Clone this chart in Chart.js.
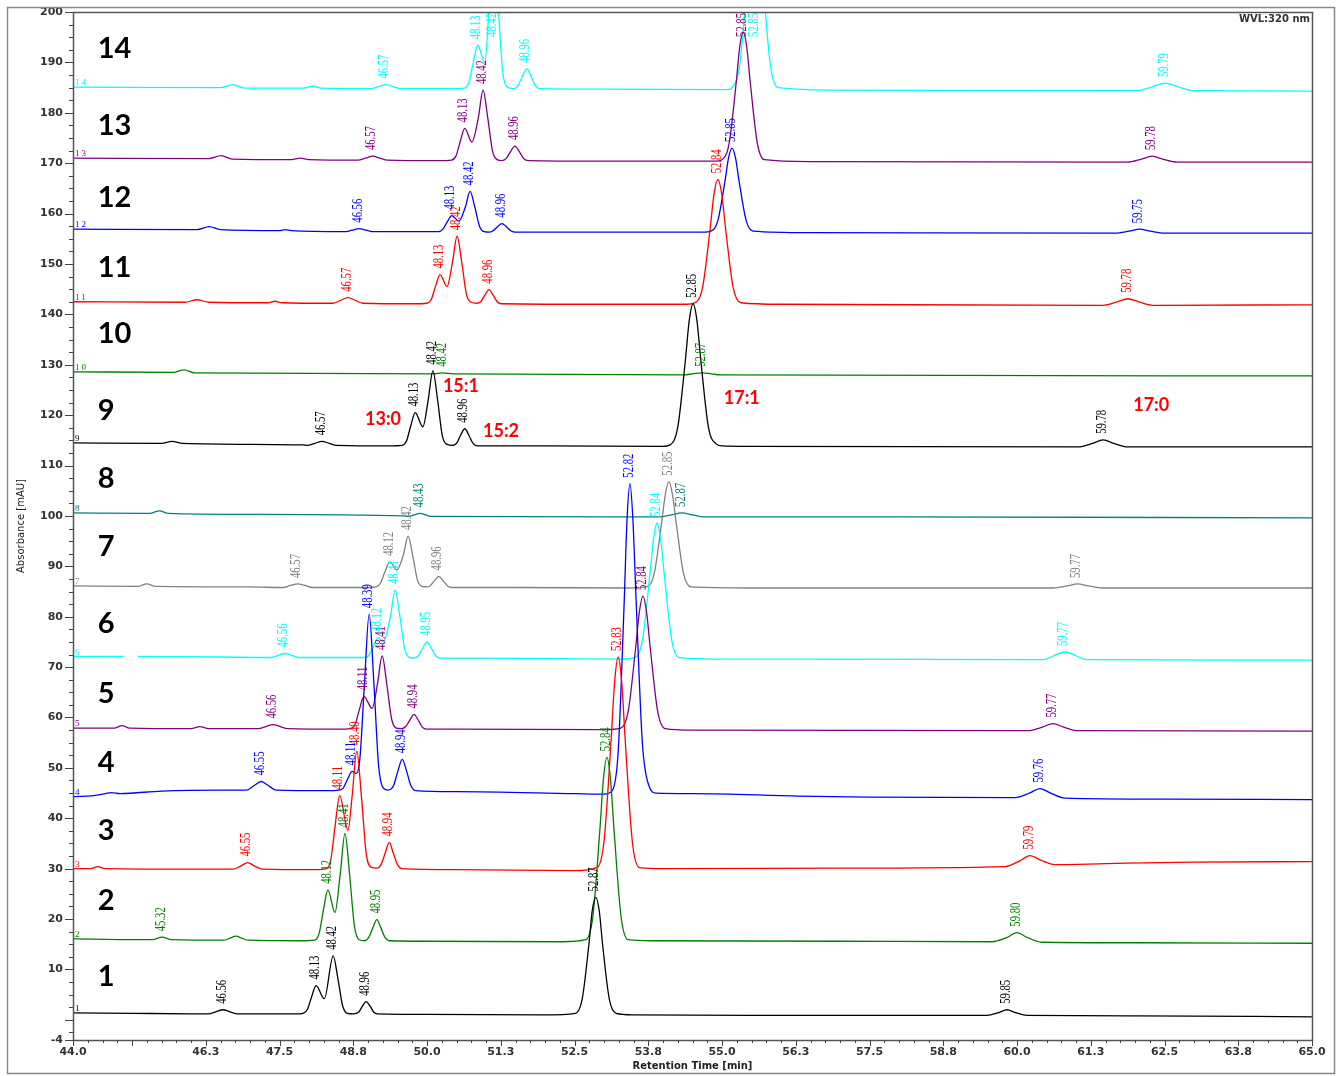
<!DOCTYPE html>
<html>
<head>
<meta charset="utf-8">
<script src="https://cdn.jsdelivr.net/npm/chart.js@4.4.1/dist/chart.umd.min.js"></script>
<style>
  html, body { margin: 0; padding: 0; background: #fff; }
  canvas { display: block; }
</style>
</head>
<body>
<canvas id="chromatogram" width="1338" height="1076"></canvas>
<script>
const trace1 = [[44.0,1.4],[45.0,1.3],[46.0,1.2],[46.29,1.2],[46.42,1.6],[46.54,2.0],[46.66,1.6],[46.79,1.2],[47.5,1.2],[47.85,1.2],[47.9,1.3],[47.97,2.0],[48.045,4.6],[48.12,6.8],[48.26,4.2],[48.41,12.7],[48.49,8.2],[48.57,2.8],[48.65,1.3],[48.75,1.2],[48.84,1.5],[48.905,2.7],[48.97,3.6],[49.035,2.7],[49.1,1.5],[49.16,1.2],[50.0,1.1],[52.0,1.0],[52.515,1.3],[52.63,4.1],[52.745,15.1],[52.8,21.6],[52.86,24.3],[52.92,21.6],[52.975,15.1],[53.09,4.1],[53.205,1.3],[53.5,1.0],[56.0,0.9],[59.49,0.9],[59.69,1.45],[59.83,2.0],[59.97,1.45],[60.17,0.9],[62.0,0.8],[65.0,0.6]]
const trace2 = [[44.0,16.1],[44.3,16.0],[45.35,15.9],[45.51,16.4],[45.67,15.9],[46.55,15.8],[46.66,16.2],[46.76,16.6],[46.86,16.2],[46.97,15.8],[47.9,15.7],[48.095,15.8],[48.17,17.1],[48.245,21.8],[48.32,25.8],[48.44,21.3],[48.53,29.0],[48.61,37.0],[48.69,28.6],[48.77,18.6],[48.85,15.9],[48.95,15.7],[49.01,16.3],[49.08,18.2],[49.15,19.9],[49.22,18.2],[49.29,16.3],[49.36,15.7],[50.0,15.6],[52.3,15.5],[52.69,15.9],[52.81,20.4],[52.93,37.7],[52.99,47.8],[53.05,52.1],[53.11,47.8],[53.17,37.7],[53.29,20.4],[53.41,15.9],[53.8,15.7],[57.0,15.6],[59.58,15.5],[59.82,16.3],[60.0,17.3],[60.18,16.3],[60.42,15.4],[62.0,15.3],[65.0,15.2]]
const trace3 = [[44.0,30.0],[44.3,30.0],[44.42,30.4],[44.54,30.0],[46.0,29.9],[46.71,29.9],[46.84,30.5],[46.96,31.2],[47.08,30.5],[47.21,29.9],[48.1,29.8],[48.295,30.0],[48.37,31.8],[48.445,38.7],[48.52,44.5],[48.66,37.6],[48.73,44.3],[48.81,53.3],[48.89,44.1],[48.97,33.0],[49.05,30.3],[49.15,30.1],[49.22,30.8],[49.29,33.0],[49.36,35.2],[49.43,33.0],[49.5,30.8],[49.57,30.0],[50.5,29.8],[52.5,29.6],[52.88,30.2],[53.0,35.4],[53.12,55.4],[53.18,67.0],[53.24,72.0],[53.3,67.0],[53.36,55.4],[53.48,35.4],[53.6,30.2],[54.0,30.0],[57.0,30.1],[59.8,30.4],[60.04,31.5],[60.22,32.6],[60.4,31.7],[60.64,30.8],[61.5,31.0],[63.0,31.3],[65.0,31.4]]
const trace4 = [[44.0,44.3],[44.35,44.5],[44.55,44.9],[44.65,45.1],[44.8,44.9],[45.5,45.4],[46.5,45.6],[46.94,45.6],[47.07,46.5],[47.19,47.3],[47.31,46.5],[47.44,45.6],[48.3,45.5],[48.505,45.6],[48.58,46.0],[48.655,47.8],[48.73,49.3],[48.8,48.9],[48.86,51.5],[48.94,66.7],[49.02,80.5],[49.1,66.7],[49.18,50.4],[49.26,46.0],[49.34,45.6],[49.43,46.4],[49.505,49.3],[49.58,51.7],[49.655,49.3],[49.73,46.4],[49.805,45.5],[50.5,45.3],[52.5,44.9],[53.0,44.8],[53.14,45.5],[53.24,53.1],[53.34,82.2],[53.39,99.2],[53.44,106.4],[53.49,99.2],[53.545,83.0],[53.65,55.0],[53.76,46.5],[53.88,45.0],[54.5,44.9],[56.3,44.4],[57.5,44.2],[59.97,44.1],[60.21,45.0],[60.39,45.9],[60.57,45.0],[60.81,44.0],[62.5,43.8],[65.0,43.7]]
const trace5 = [[44.0,57.9],[44.7,57.9],[44.83,58.4],[44.96,57.9],[46.0,57.8],[46.15,58.2],[46.3,57.8],[47.14,57.8],[47.27,58.2],[47.39,58.6],[47.51,58.2],[47.64,57.8],[48.5,57.7],[48.705,57.8],[48.78,58.6],[48.855,61.6],[48.93,64.2],[49.07,61.8],[49.16,66.6],[49.24,72.2],[49.32,66.5],[49.4,59.7],[49.48,57.9],[49.57,57.8],[49.64,58.2],[49.71,59.5],[49.78,60.6],[49.85,59.5],[49.92,58.1],[49.99,57.7],[50.5,57.7],[53.0,57.6],[53.285,57.9],[53.41,61.2],[53.535,73.7],[53.6,81.0],[53.66,84.1],[53.72,81.0],[53.785,73.7],[53.91,61.2],[54.035,57.8],[54.5,57.5],[60.19,57.4],[60.43,58.1],[60.61,58.8],[60.79,58.1],[61.03,57.4],[65.0,57.3]]
const trace6 = [[44.0,72.1],[44.85,72.1],[44.95,null],[45.1,72.1],[46.5,72.0],[47.34,71.9],[47.47,72.3],[47.59,72.7],[47.71,72.3],[47.84,71.9],[48.7,71.9],[48.95,71.9],[49.02,72.4],[49.095,74.2],[49.17,75.8],[49.26,75.0],[49.38,80.0],[49.46,85.3],[49.54,80.1],[49.62,73.7],[49.7,71.9],[49.775,71.8],[49.85,72.2],[49.925,73.7],[50.0,75.0],[50.075,73.7],[50.15,72.2],[50.225,71.8],[51.0,71.8],[53.2,71.6],[53.525,71.9],[53.65,75.2],[53.775,88.0],[53.84,95.4],[53.9,98.6],[53.96,95.4],[54.025,88.0],[54.15,75.2],[54.275,71.9],[55.0,71.6],[60.45,71.5],[60.63,72.3],[60.81,73.0],[60.99,72.3],[61.17,71.5],[65.0,71.4]]
const trace7 = [[44.0,86.1],[45.1,86.0],[45.25,86.5],[45.4,86.0],[47.0,85.9],[47.56,85.8],[47.69,86.2],[47.81,86.5],[47.93,86.2],[48.06,85.8],[49.0,85.8],[49.135,85.9],[49.21,86.6],[49.29,89.0],[49.37,90.9],[49.49,89.3],[49.6,92.3],[49.68,96.0],[49.76,92.0],[49.84,87.2],[49.92,86.0],[50.0,85.9],[50.05,86.1],[50.125,87.1],[50.2,88.0],[50.275,87.1],[50.35,86.1],[50.425,85.8],[51.5,85.8],[53.4,85.7],[53.725,85.9],[53.85,88.5],[53.975,98.5],[54.04,104.3],[54.1,106.8],[54.16,104.3],[54.225,98.5],[54.35,88.5],[54.475,85.9],[55.5,85.7],[60.61,85.7],[60.85,86.1],[61.03,86.5],[61.21,86.1],[61.45,85.7],[65.0,85.7]]
const trace8 = [[44.0,100.6],[45.3,100.5],[45.46,101.0],[45.62,100.5],[47.0,100.3],[49.6,100.0],[49.68,99.9],[49.78,100.2],[49.88,100.5],[49.98,100.2],[50.08,99.9],[53.8,99.8],[53.95,99.8],[54.14,100.2],[54.32,100.6],[54.5,100.2],[54.69,99.8],[58.0,99.8],[65.0,99.6]]
const trace9 = [[44.0,114.5],[45.5,114.4],[45.68,114.8],[45.86,114.4],[47.9,114.1],[47.97,114.0],[48.1,114.4],[48.22,114.8],[48.34,114.4],[48.47,114.0],[49.4,113.9],[49.575,114.0],[49.65,114.8],[49.725,117.9],[49.8,120.5],[49.93,117.7],[50.02,123.0],[50.1,128.8],[50.18,123.0],[50.26,115.9],[50.34,114.2],[50.43,114.0],[50.5,114.4],[50.57,116.0],[50.64,117.3],[50.71,116.0],[50.78,114.4],[50.85,113.9],[52.0,113.9],[54.0,113.8],[54.12,114.1],[54.25,117.6],[54.38,131.0],[54.445,138.8],[54.51,142.1],[54.575,138.8],[54.64,131.0],[54.77,117.6],[54.9,114.3],[55.0,113.9],[55.5,113.8],[61.04,113.7],[61.28,114.4],[61.46,115.1],[61.64,114.4],[61.88,113.7],[65.0,113.7]]
const trace10 = [[44.0,128.6],[45.7,128.5],[45.88,129.0],[46.06,128.4],[48.0,128.3],[50.1,128.2],[50.27,128.4],[50.44,128.2],[54.35,128.0],[54.5,128.2],[54.66,128.4],[54.82,128.2],[54.97,128.0],[65.0,127.8]]
const trace11 = [[44.0,142.5],[45.9,142.4],[46.1,142.9],[46.3,142.4],[47.3,142.3],[47.42,142.6],[47.54,142.3],[48.41,142.2],[48.54,142.8],[48.66,143.3],[48.78,142.8],[48.91,142.2],[49.8,142.1],[49.995,142.2],[50.07,142.9],[50.145,145.6],[50.22,147.9],[50.34,145.5],[50.43,150.2],[50.51,155.5],[50.59,150.2],[50.67,143.9],[50.75,142.4],[50.84,142.2],[50.91,142.5],[50.98,143.8],[51.05,144.9],[51.12,143.8],[51.19,142.5],[51.26,142.1],[53.0,142.0],[54.4,142.0],[54.54,142.3],[54.67,145.3],[54.8,157.1],[54.865,163.9],[54.93,166.8],[54.995,163.9],[55.06,157.1],[55.19,145.3],[55.32,142.3],[56.0,142.0],[61.46,141.8],[61.7,142.5],[61.88,143.1],[62.06,142.5],[62.3,141.8],[65.0,141.9]]
const trace12 = [[44.0,156.9],[46.1,156.8],[46.31,157.4],[46.5,156.8],[47.5,156.6],[47.6,156.8],[47.7,156.6],[48.6,156.4],[48.73,156.7],[48.85,157.0],[48.97,156.7],[49.1,156.4],[50.0,156.4],[50.195,156.4],[50.27,156.9],[50.345,158.4],[50.42,159.6],[50.54,158.5],[50.65,161.3],[50.73,164.4],[50.81,161.3],[50.89,157.5],[50.97,156.4],[51.05,156.3],[51.12,156.6],[51.195,157.4],[51.27,158.0],[51.345,157.4],[51.42,156.6],[51.5,156.3],[53.0,156.3],[54.7,156.3],[54.81,156.5],[54.93,158.6],[55.05,166.4],[55.11,171.0],[55.17,173.0],[55.23,171.0],[55.29,166.4],[55.41,158.6],[55.53,156.5],[56.5,156.2],[61.66,156.1],[61.9,156.5],[62.08,156.9],[62.26,156.5],[62.5,156.1],[65.0,156.1]]
const trace13 = [[44.0,171.0],[46.3,170.9],[46.51,171.5],[46.7,170.8],[47.7,170.7],[47.85,171.0],[48.0,170.7],[48.83,170.6],[48.96,171.0],[49.08,171.4],[49.2,171.0],[49.33,170.6],[50.2,170.5],[50.415,170.6],[50.49,171.4],[50.565,174.4],[50.64,176.9],[50.76,174.2],[50.87,179.0],[50.95,184.5],[51.03,179.0],[51.11,172.4],[51.19,170.7],[51.265,170.5],[51.34,170.9],[51.415,172.3],[51.49,173.4],[51.565,172.3],[51.64,170.9],[51.715,170.5],[53.0,170.4],[54.9,170.4],[55.0,170.7],[55.12,173.9],[55.24,185.9],[55.3,193.0],[55.36,196.0],[55.42,193.0],[55.48,185.9],[55.6,173.9],[55.72,170.7],[56.5,170.3],[61.87,170.2],[62.11,170.8],[62.29,171.4],[62.47,170.8],[62.71,170.2],[65.0,170.2]]
const trace14 = [[44.0,185.1],[46.5,185.0],[46.71,185.6],[46.9,184.9],[47.9,184.9],[48.07,185.3],[48.2,184.9],[49.05,184.8],[49.18,185.2],[49.3,185.6],[49.42,185.2],[49.55,184.8],[50.4,184.8],[50.635,184.9],[50.71,186.0],[50.785,190.0],[50.86,193.4],[50.98,190.0],[51.055,201.2],[51.13,212.0],[51.205,201.2],[51.28,188.5],[51.355,185.1],[51.465,184.8],[51.54,185.3],[51.615,187.2],[51.69,188.7],[51.765,187.2],[51.84,185.3],[51.915,184.8],[53.0,184.7],[55.1,184.6],[55.17,185.0],[55.3,189.5],[55.43,206.7],[55.495,216.7],[55.56,221.0],[55.625,216.7],[55.69,206.7],[55.82,189.5],[55.95,185.0],[57.0,184.5],[62.05,184.4],[62.3,185.2],[62.51,185.9],[62.72,185.2],[62.97,184.4],[65.0,184.3]]

// peak annotations: [printed retention time, displayed position (min)]
const peakLabels1 = [["46.56",46.54],["48.13",48.12],["48.42",48.41],["48.96",48.97],["52.87",52.86],["59.85",59.83]]
const peakLabels2 = [["45.32",45.51],["48.12",48.32],["48.41",48.61],["48.95",49.15],["52.84",53.05],["59.80",60.0]]
const peakLabels3 = [["46.55",46.96],["48.11",48.52],["48.40",48.81],["48.94",49.36],["52.83",53.24],["59.79",60.22]]
const peakLabels4 = [["46.55",47.19],["48.11",48.73],["48.39",49.02],["48.94",49.58],["52.82",53.44],["59.76",60.39]]
const peakLabels5 = [["46.56",47.39],["48.11",48.93],["48.41",49.24],["48.94",49.78],["52.84",53.66],["59.77",60.61]]
const peakLabels6 = [["46.56",47.59],["48.12",49.17],["48.41",49.46],["48.95",50.0],["52.84",53.9],["59.77",60.81]]
const peakLabels7 = [["46.57",47.81],["48.12",49.37],["48.42",49.68],["48.96",50.2],["52.85",54.1],["59.77",61.03]]
const peakLabels8 = [["48.43",49.88],["52.87",54.32]]
const peakLabels9 = [["46.57",48.22],["48.13",49.8],["48.42",50.1],["48.96",50.64],["52.85",54.51],["59.78",61.46]]
const peakLabels10 = [["48.42",50.27],["52.87",54.66]]
const peakLabels11 = [["46.57",48.66],["48.13",50.22],["48.42",50.51],["48.96",51.05],["52.84",54.93],["59.78",61.88]]
const peakLabels12 = [["46.56",48.85],["48.13",50.42],["48.42",50.73],["48.96",51.27],["52.85",55.17],["59.75",62.08]]
const peakLabels13 = [["46.57",49.08],["48.13",50.64],["48.42",50.95],["48.96",51.49],["52.85",55.36],["59.78",62.29]]
const peakLabels14 = [["46.57",49.3],["48.13",50.86],["48.42",51.13],["48.96",51.69],["52.85",55.56],["59.79",62.51]]

const traces = [trace1, trace2, trace3, trace4, trace5, trace6, trace7, trace8, trace9, trace10, trace11, trace12, trace13, trace14]
const peakLabels = [peakLabels1, peakLabels2, peakLabels3, peakLabels4, peakLabels5, peakLabels6, peakLabels7,
  peakLabels8, peakLabels9, peakLabels10, peakLabels11, peakLabels12, peakLabels13, peakLabels14]
const traceColors = ["#000000", "#008000", "#ff0000", "#0000ff", "#800080", "#00ffff", "#808080",
  "#008080", "#000000", "#008000", "#ff0000", "#0000ff", "#800080", "#00ffff"]

const xTicks = [44.0, 45.0, 46.25, 47.5, 48.75, 50.0, 51.25, 52.5, 53.75, 55.0, 56.25, 57.5, 58.75, 60.0, 61.25, 62.5, 63.75, 65.0]
const xTickLabels = ["44.0", "", "46.3", "47.5", "48.8", "50.0", "51.3", "52.5", "53.8", "55.0", "56.3", "57.5", "58.8", "60.0", "61.3", "62.5", "63.8", "65.0"]
const yTicks = [-4, 0, 10, 20, 30, 40, 50, 60, 70, 80, 90, 100, 110, 120, 130, 140, 150, 160, 170, 180, 190, 200]

// big run numbers on the left, baseline in mAU
const runNumberY = [6.8, 21.7, 35.6, 49.1, 62.8, 76.7, 92.0, 105.6, 119.1, 134.4, 147.5, 161.4, 175.5, 190.9]
// fatty acid notes in red: [text, min, mAU]
const notes = [["13:0", 48.95, 118.1], ["15:1", 50.27, 124.5], ["15:2", 50.95, 115.7], ["17:1", 55.03, 122.3], ["17:0", 61.97, 120.9]]

const overlayPlugin = {
  id: "overlay",
  afterDatasetsDraw(chart) {
    const { ctx, chartArea } = chart
    const xs = chart.scales.x
    const ys = chart.scales.y
    ctx.save()

    // rotated peak retention times
    ctx.font = '14px "Liberation Serif"'
    ctx.textBaseline = "middle"
    ctx.textAlign = "left"
    traces.forEach((pts, i) => {
      ctx.fillStyle = traceColors[i]
      peakLabels[i].forEach(([txt, t]) => {
        const apex = pts.reduce((best, p) => Math.abs(p[0] - t) < Math.abs(best[0] - t) ? p : best)
        const w = ctx.measureText(txt).width * 0.76
        const px = xs.getPixelForValue(t) - 1
        const py = Math.max(ys.getPixelForValue(apex[1]) - 6, chartArea.top + w + 1)
        ctx.save()
        ctx.translate(px, py)
        ctx.rotate(-Math.PI / 2)
        ctx.scale(0.76, 1)
        ctx.fillText(txt, 0, 0)
        ctx.restore()
      })
    })

    // small run numbers at the start of each trace
    ctx.font = '9px "Liberation Serif"'
    ctx.textBaseline = "alphabetic"
    ctx.letterSpacing = "2px"
    traces.forEach((pts, i) => {
      ctx.fillStyle = traceColors[i]
      ctx.fillText(String(i + 1), chartArea.left + 2, ys.getPixelForValue(pts[0][1]) - 2)
    })
    ctx.letterSpacing = "0px"
    ctx.restore()
  },
  afterDraw(chart) {
    const { ctx, chartArea } = chart
    const xs = chart.scales.x
    const ys = chart.scales.y
    const { left, right, top, bottom } = chartArea
    ctx.save()

    // outer frame and plot frame
    ctx.strokeStyle = "#888"
    ctx.lineWidth = 1.5
    ctx.strokeRect(7.5, 7.5, 1327, 1066)
    ctx.strokeStyle = "#555"
    ctx.strokeRect(left + 0.5, top + 0.5, right - left, bottom - top)

    // tick marks, major and minor
    ctx.strokeStyle = "#444"
    ctx.lineWidth = 1
    ctx.beginPath()
    for (let k = 0; k <= 84; k++) {
      const t = 44 + k * 0.25
      const len = xTicks.includes(t) ? 6 : 3
      const px = Math.round(xs.getPixelForValue(t)) + 0.5
      ctx.moveTo(px, bottom)
      ctx.lineTo(px, bottom + len)
    }
    for (let k = -1; k <= 80; k++) {
      const v = k * 2.5
      const len = v % 10 === 0 ? 8 : 4
      const py = Math.round(ys.getPixelForValue(v)) + 0.5
      ctx.moveTo(left, py)
      ctx.lineTo(left - len, py)
    }
    const pyMin = Math.round(ys.getPixelForValue(-4)) + 0.5
    ctx.moveTo(left, pyMin)
    ctx.lineTo(left - 8, pyMin)
    ctx.stroke()

    // axis titles
    ctx.fillStyle = "#222"
    ctx.textAlign = "center"
    ctx.textBaseline = "middle"
    ctx.font = 'bold 10px "DejaVu Sans"'
    ctx.fillText("Retention Time [min]", (left + right) / 2, 1066)
    ctx.save()
    ctx.translate(21, 526)
    ctx.rotate(-Math.PI / 2)
    ctx.font = '10px "DejaVu Sans"'
    ctx.fillText("Absorbance [mAU]", 0, 0)
    ctx.restore()

    ctx.textAlign = "right"
    ctx.textBaseline = "alphabetic"
    ctx.font = 'bold 10px "DejaVu Sans"'
    ctx.fillStyle = "#333"
    ctx.fillText("WVL:320 nm", right - 2, 22)

    // run numbers
    ctx.textAlign = "left"
    ctx.fillStyle = "#000"
    ctx.font = 'bold 29px Lato'
    runNumberY.forEach((v, i) => {
      ctx.fillText(String(i + 1), xs.getPixelForValue(44.42), ys.getPixelForValue(v))
    })

    // fatty acid notes
    ctx.fillStyle = "#ff0000"
    ctx.font = 'bold 18px Lato'
    notes.forEach(([txt, t, v]) => {
      ctx.fillText(txt, xs.getPixelForValue(t), ys.getPixelForValue(v))
    })
    ctx.restore()
  }
}

new Chart(document.getElementById("chromatogram"), {
  type: "line",
  data: {
    datasets: traces.map((pts, i) => ({
      label: String(i + 1),
      data: pts,
      borderColor: traceColors[i],
      borderWidth: 1.3,
      pointRadius: 0,
      fill: false,
      cubicInterpolationMode: "monotone",
      clip: 0
    }))
  },
  options: {
    responsive: false,
    animation: false,
    devicePixelRatio: 1,
    layout: { padding: { left: 7, right: 26, top: 12, bottom: 0 } },
    plugins: {
      legend: { display: false },
      tooltip: { enabled: false }
    },
    scales: {
      x: {
        type: "linear",
        min: 44,
        max: 65,
        grid: { display: false, drawTicks: false },
        border: { display: false },
        afterBuildTicks: (scale) => { scale.ticks = xTicks.map(v => ({ value: v })) },
        afterFit: (scale) => {
          scale.height = 36
          scale.paddingLeft = 0
          scale.paddingRight = 0
        },
        ticks: {
          autoSkip: false,
          maxRotation: 0,
          padding: 6,
          color: "#333",
          font: { family: "DejaVu Sans", size: 11, weight: "bold" },
          callback: (v, i) => xTickLabels[i]
        }
      },
      y: {
        type: "linear",
        min: -4,
        max: 200,
        grid: { display: false, drawTicks: false },
        border: { display: false },
        afterBuildTicks: (scale) => { scale.ticks = yTicks.map(v => ({ value: v })) },
        afterFit: (scale) => {
          scale.width = 66
          scale.paddingTop = 0
          scale.paddingBottom = 0
        },
        ticks: {
          autoSkip: false,
          padding: 10,
          color: "#333",
          font: { family: "DejaVu Sans", size: 11, weight: "bold" },
          callback: (v) => v === 0 ? "" : String(v)
        }
      }
    }
  },
  plugins: [overlayPlugin]
})
</script>
</body>
</html>
